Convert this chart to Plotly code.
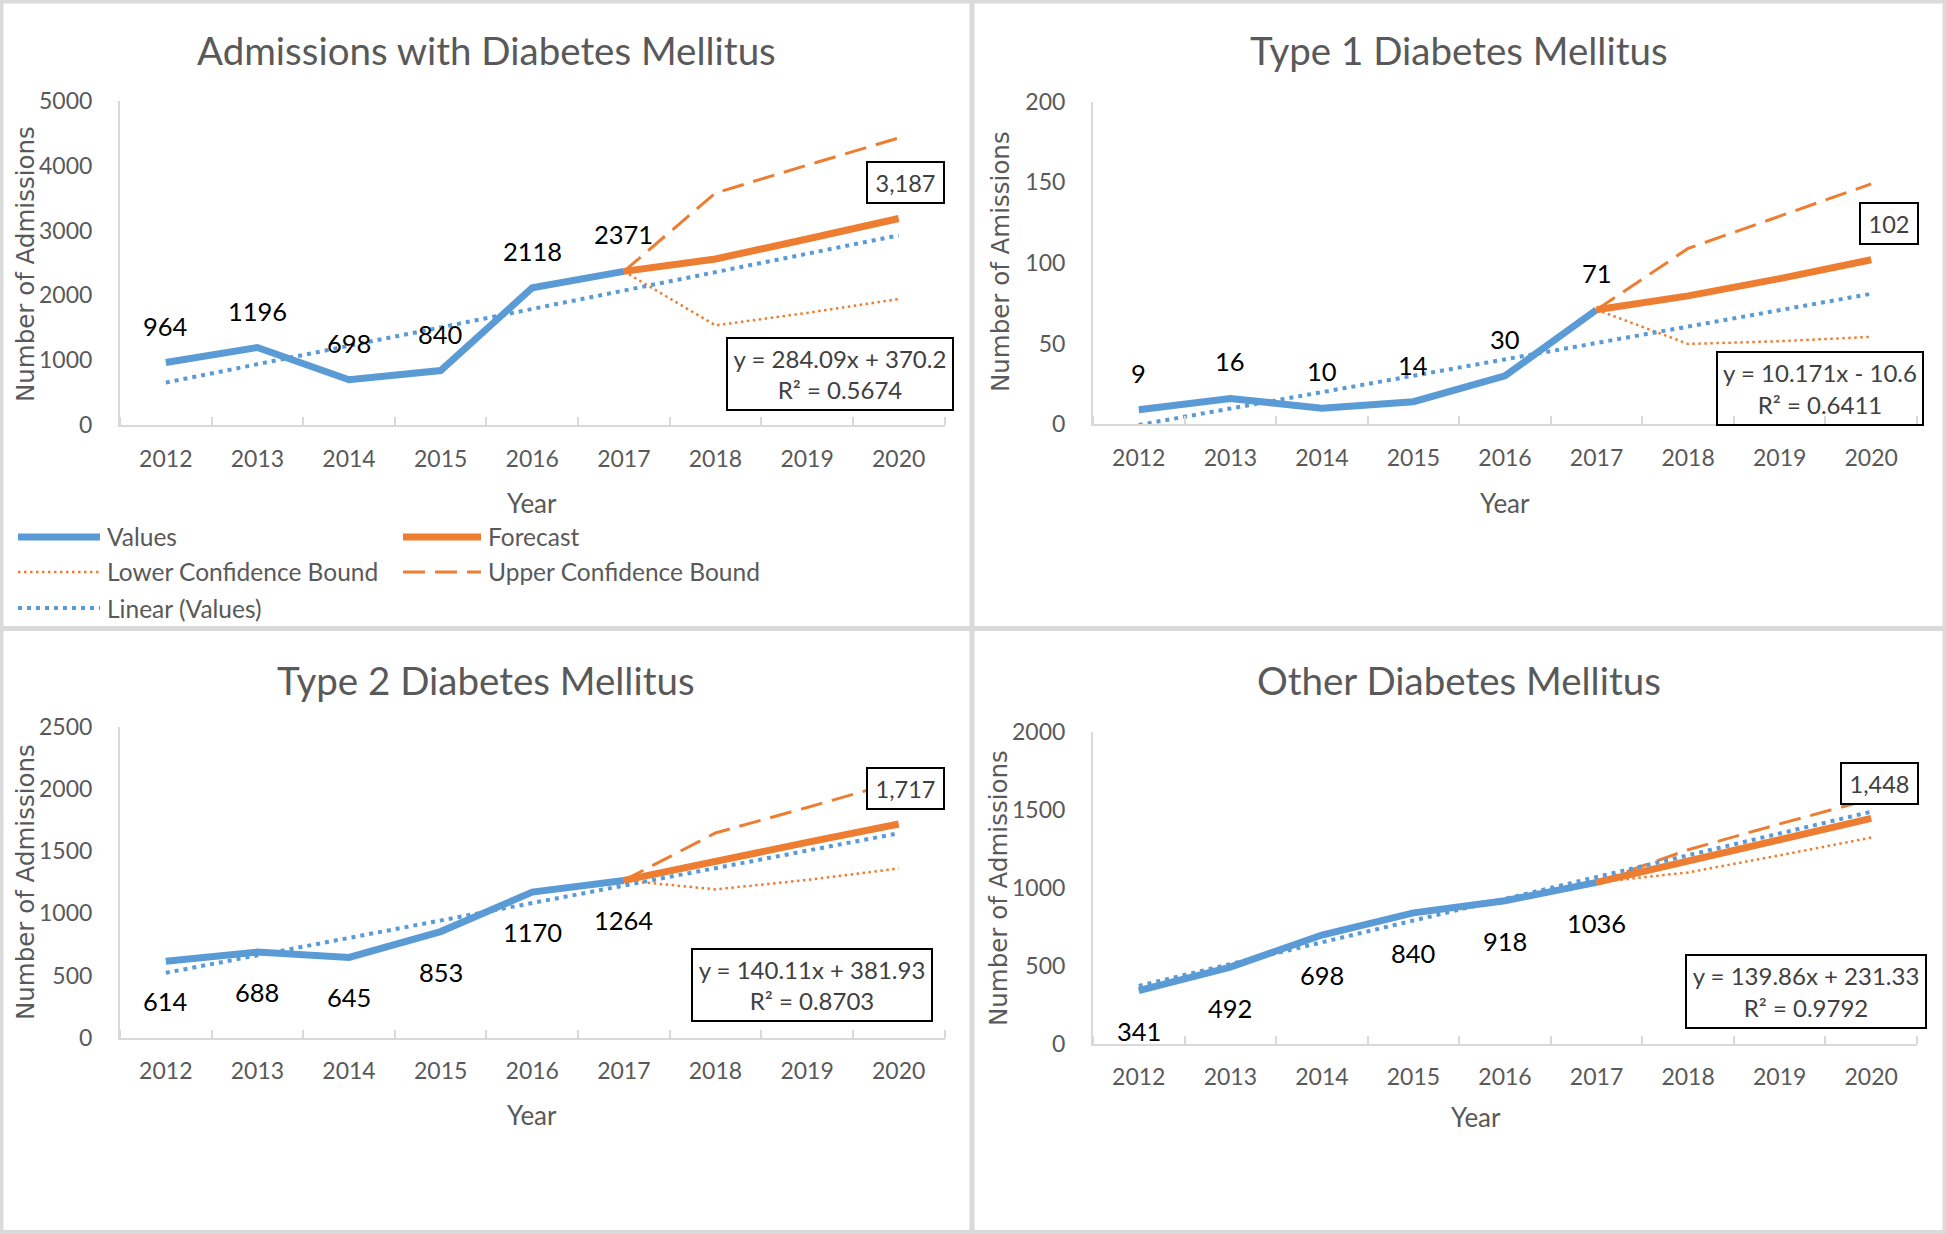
import plotly.graph_objects as go

W, H = 1946, 1234
BLUE = "#5B9BD5"
ORANGE = "#ED7D31"
GRAY = "#595959"
AXC = "#D9D9D9"
FONT = "Lato"

years = [2012, 2013, 2014, 2015, 2016, 2017, 2018, 2019, 2020]
hist_years = [2012, 2013, 2014, 2015, 2016, 2017]
fc_years = [2017, 2018, 2019, 2020]
trend_years = [2012, 2020]

# Panel 1: Admissions with Diabetes Mellitus
p1_values = [964, 1196, 698, 840, 2118, 2371]
p1_forecast = [2371, 2562, 2870, 3187]
p1_lower = [2371, 1537, 1730, 1944]
p1_upper = [2371, 3580, 4010, 4430]
p1_trend = [654.3, 2927.0]

# Panel 2: Type 1
p2_values = [9, 16, 10, 14, 30, 71]
p2_forecast = [71, 79.6, 90.3, 102]
p2_lower = [71, 49.8, 51.5, 54.2]
p2_upper = [71, 109, 129, 149]
p2_trend = [-0.4, 80.9]

# Panel 3: Type 2
p3_values = [614, 688, 645, 853, 1170, 1264]
p3_forecast = [1264, 1421, 1569, 1717]
p3_lower = [1264, 1192, 1268, 1360]
p3_upper = [1264, 1645, 1850, 2060]
p3_trend = [522.0, 1642.9]

# Panel 4: Other
p4_values = [341, 492, 698, 840, 918, 1036]
p4_forecast = [1036, 1173, 1311, 1448]
p4_lower = [1036, 1100, 1210, 1324]
p4_upper = [1036, 1246, 1412, 1572]
p4_trend = [371.2, 1490.1]

titles = ["Admissions with Diabetes Mellitus", "Type 1 Diabetes Mellitus",
          "Type 2 Diabetes Mellitus", "Other Diabetes Mellitus"]
ytitles = ["Number of Admissions", "Number of Amissions",
           "Number of Admissions", "Number of Admissions"]
end_labels = ["3,187", "102", "1,717", "1,448"]
equations = ["y = 284.09x + 370.2<br>R² = 0.5674",
             "y = 10.171x - 10.6<br>R² = 0.6411",
             "y = 140.11x + 381.93<br>R² = 0.8703",
             "y = 139.86x + 231.33<br>R² = 0.9792"]
y_max = [5000, 200, 2500, 2000]
y_dtick = [1000, 50, 500, 500]

values = [p1_values, p2_values, p3_values, p4_values]
forecasts = [p1_forecast, p2_forecast, p3_forecast, p4_forecast]
lowers = [p1_lower, p2_lower, p3_lower, p4_lower]
uppers = [p1_upper, p2_upper, p3_upper, p4_upper]
trends = [p1_trend, p2_trend, p3_trend, p4_trend]

# layout geometry (pixels)
plot_boxes = [  # x0, x1, ytop, ybottom
    (120, 944.5, 101, 425),
    (1093, 1917, 101.6, 424.3),
    (120, 944.5, 726.5, 1037.8),
    (1093, 1917, 732.4, 1043.6),
]
title_pos = [(486, 50), (1459, 50), (486, 680), (1459, 680)]
ytitle_pos = [(25, 264), (1001, 262), (25, 882), (998, 888)]
xtitle_pos = [(532, 503), (1505, 503), (532, 1115), (1476, 1117)]
label_shift = [37, 37, -40, -40.5]
endbox = [(7, 36, 79, 43), (17.5, 36, 60, 43), (7, 35, 79, 43), (8.5, 35, 79, 43)]
eqbox = [(840, 374, 228, 74), (1820, 388.5, 208, 75), (811.7, 985, 242, 74), (1805.8, 991.5, 242, 75)]


def px(x):
    return x / W


def py(y):
    return 1 - y / H


fig = go.Figure()
annotations = []
shapes = []

VAL_W = 7
TREND_DASH = "4px,5px"
LOW_DASH = "2.5px,3.5px"
UP_DASH = "22px,10px"

for i in range(4):
    xa = "x" if i == 0 else f"x{i+1}"
    ya = "y" if i == 0 else f"y{i+1}"
    xl = "xaxis" if i == 0 else f"xaxis{i+1}"
    yl = "yaxis" if i == 0 else f"yaxis{i+1}"
    fig.add_trace(go.Scatter(x=hist_years, y=values[i], mode="lines", name="Values",
                             line=dict(color=BLUE, width=VAL_W), xaxis=xa, yaxis=ya,
                             showlegend=False))
    fig.add_trace(go.Scatter(x=fc_years, y=forecasts[i], mode="lines", name="Forecast",
                             line=dict(color=ORANGE, width=VAL_W), xaxis=xa, yaxis=ya,
                             showlegend=False))
    fig.add_trace(go.Scatter(x=fc_years, y=lowers[i], mode="lines", name="Lower Confidence Bound",
                             line=dict(color=ORANGE, width=2.5, dash=LOW_DASH), xaxis=xa, yaxis=ya,
                             showlegend=False))
    fig.add_trace(go.Scatter(x=fc_years, y=uppers[i], mode="lines", name="Upper Confidence Bound",
                             line=dict(color=ORANGE, width=3, dash=UP_DASH), xaxis=xa, yaxis=ya,
                             showlegend=False))
    fig.add_trace(go.Scatter(x=trend_years, y=trends[i], mode="lines", name="Linear (Values)",
                             line=dict(color=BLUE, width=4, dash=TREND_DASH), xaxis=xa, yaxis=ya,
                             showlegend=False))

    x0, x1, yt, yb = plot_boxes[i]
    fig.update_layout({
        xl: dict(domain=[px(x0), px(x1)], range=[2011.5, 2020.5], anchor=ya, automargin=False,
                 tickvals=years, ticktext=[str(y) for y in years], ticks="",
                 showline=True, linecolor=AXC, linewidth=2, showgrid=False, zeroline=False,
                 tickfont=dict(family=FONT, size=23, color=GRAY), ticklabelstandoff=12,
                 minor=dict(tickmode="array", tickvals=[y - 0.5 for y in years] + [2020.5],
                            ticks="inside", ticklen=8, tickcolor=AXC, tickwidth=2),
                 fixedrange=True),
        yl: dict(domain=[py(yb), py(yt)], range=[0, y_max[i]], dtick=y_dtick[i], anchor=xa,
                 automargin=False, ticks="", showline=True, linecolor=AXC, linewidth=2,
                 showgrid=False, zeroline=False, tickfont=dict(family=FONT, size=23, color=GRAY),
                 ticklabelstandoff=21, fixedrange=True),
    })

    tx, ty = title_pos[i]
    annotations.append(dict(text=titles[i], x=px(tx), y=py(ty), xref="paper", yref="paper",
                            showarrow=False, xanchor="center", yanchor="middle",
                            font=dict(family=FONT, size=38.5, color=GRAY)))
    ax_, ay_ = ytitle_pos[i]
    annotations.append(dict(text=ytitles[i], x=px(ax_), y=py(ay_), xref="paper", yref="paper",
                            showarrow=False, xanchor="center", yanchor="middle", textangle=-90,
                            font=dict(family="DejaVu Sans", size=24.5, color=GRAY)))
    xx, xy = xtitle_pos[i]
    annotations.append(dict(text="Year", x=px(xx), y=py(xy), xref="paper", yref="paper",
                            showarrow=False, xanchor="center", yanchor="middle",
                            font=dict(family=FONT, size=26, color=GRAY)))
    for yr, v in zip(hist_years, values[i]):
        annotations.append(dict(text=str(v), x=yr, y=v, xref=xa, yref=ya, showarrow=False,
                                yshift=label_shift[i], xanchor="center", yanchor="middle",
                                font=dict(family=FONT, size=25.5, color="black")))
    dx, dy, bw, bh = endbox[i]
    annotations.append(dict(text=end_labels[i], x=fc_years[-1], y=forecasts[i][-1], xref=xa, yref=ya,
                            showarrow=False, xshift=dx, yshift=dy, xanchor="center", yanchor="middle",
                            width=bw - 4, height=bh - 4, borderpad=0, borderwidth=2,
                            bordercolor="black", bgcolor="white", align="center",
                            font=dict(family=FONT, size=23.5, color="#404040")))
    ex, ey, ew, eh = eqbox[i]
    annotations.append(dict(text=equations[i], x=px(ex), y=py(ey), xref="paper", yref="paper",
                            showarrow=False, xanchor="center", yanchor="middle",
                            width=ew - 4, height=eh - 4, borderpad=0, borderwidth=2,
                            bordercolor="black", align="center",
                            font=dict(family=FONT, size=24, color="#404040")))

legend_items = [
    ("Values", 18, 100, 537, dict(color=BLUE, width=VAL_W)),
    ("Lower Confidence Bound", 18, 100, 572, dict(color=ORANGE, width=2.5, dash=LOW_DASH)),
    ("Linear (Values)", 18, 100, 608, dict(color=BLUE, width=4, dash=TREND_DASH)),
    ("Forecast", 403, 481, 537, dict(color=ORANGE, width=VAL_W)),
    ("Upper Confidence Bound", 403, 481, 572, dict(color=ORANGE, width=3, dash=UP_DASH)),
]
for name, lx0, lx1, ly, ln in legend_items:
    shapes.append(dict(type="line", xref="paper", yref="paper", x0=px(lx0), x1=px(lx1),
                       y0=py(ly), y1=py(ly), line=ln))
    annotations.append(dict(text=name, x=px(lx1 + 5), y=py(ly), xref="paper", yref="paper",
                            showarrow=False, xanchor="left", yanchor="middle",
                            font=dict(family=FONT, size=24.5, color=GRAY)))

BORDER = "#DADADA"
shapes.append(dict(type="rect", xref="paper", yref="paper", x0=px(1.5), x1=px(W - 1.5),
                   y0=py(1.5), y1=py(H - 2), line=dict(color=BORDER, width=4)))
shapes.append(dict(type="line", xref="paper", yref="paper", x0=px(972), x1=px(972),
                   y0=0, y1=1, line=dict(color=BORDER, width=5)))
shapes.append(dict(type="line", xref="paper", yref="paper", x0=0, x1=1,
                   y0=py(628.5), y1=py(628.5), line=dict(color=BORDER, width=5)))

fig.update_layout(width=W, height=H,
                  margin=dict(l=0, r=0, t=0, b=0, pad=0, autoexpand=False),
                  paper_bgcolor="white", plot_bgcolor="white",
                  annotations=annotations, shapes=shapes, showlegend=False,
                  font=dict(family=FONT, color=GRAY))

post = ("var gd=document.getElementById('{plot_id}');"
        "gd.style.position='fixed';gd.style.left='0px';gd.style.top='0px';"
        "document.documentElement.style.margin='0';document.body.style.margin='0';"
        "document.documentElement.style.overflow='hidden';document.body.style.overflow='hidden';")

fig.write_html("out.html", config={"displayModeBar": False}, post_script=post)
